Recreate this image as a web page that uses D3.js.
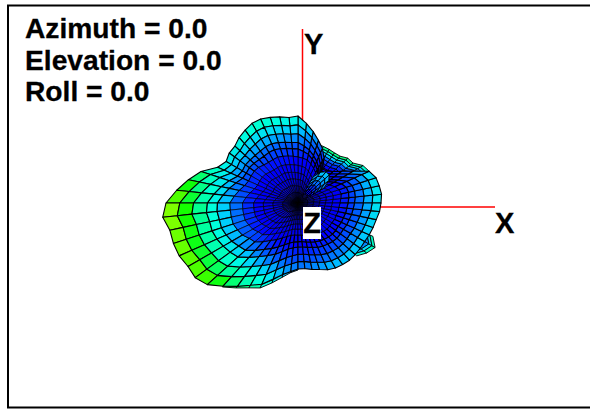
<!DOCTYPE html>
<html>
<head>
<meta charset="utf-8">
<script src="https://cdn.jsdelivr.net/npm/d3@7"></script>
<style>
    html, body { margin: 0; padding: 0; background: #fff; }
    text { font-family: "Liberation Sans", Arial, sans-serif; font-weight: 700; fill: #000; stroke: #000; stroke-width: 0.3px; }
</style>
</head>
<body>
<div id="chart"></div>
<script>
// ─── DATA ─────────────────────────────────────────────────────────────────────
const titleLines = ["Azimuth = 0.0", "Elevation = 0.0", "Roll = 0.0"];
const axisNames = ["X", "Y", "Z"];
const xAxisEnd = 1.93;
const yAxisEnd = 1.78;

// Radius per spoke, one spoke every 6 degrees, counter clockwise from +X
const outerRadius = [
    0.83, 0.84, 0.83, 0.82, 0.78, 0.64, 0.54, 0.47, 0.43, 0.42,
    0.52, 0.60, 0.66, 0.73, 0.80, 0.87, 0.86, 0.88, 0.90, 0.92,
    0.92, 0.90, 0.88, 0.85, 0.85, 0.83, 0.88, 1.02, 1.12, 1.22,
    1.32, 1.36, 1.31, 1.31, 1.30, 1.27, 1.27, 1.22, 1.12, 1.03,
    0.95, 0.89, 0.80, 0.73, 0.69, 0.66, 0.66, 0.68, 0.70, 0.73,
    0.75, 0.76, 0.77, 0.77, 0.77, 0.77, 0.78, 0.79, 0.80, 0.82
];
const middleRadius = [
    0.42, 0.43, 0.44, 0.43, 0.40, 0.36, 0.32, 0.30, 0.30, 0.32,
    0.35, 0.38, 0.41, 0.44, 0.45, 0.46, 0.47, 0.48, 0.49, 0.50,
    0.50, 0.50, 0.51, 0.53, 0.54, 0.54, 0.54, 0.56, 0.60, 0.64,
    0.68, 0.68, 0.68, 0.68, 0.66, 0.64, 0.60, 0.58, 0.52, 0.46,
    0.42, 0.38, 0.35, 0.33, 0.32, 0.32, 0.32, 0.33, 0.34, 0.35,
    0.36, 0.37, 0.38, 0.39, 0.39, 0.39, 0.40, 0.40, 0.41, 0.41
];
const ringLevels = [1, 0.89, 0.78, 0.67, 0.59, 0.49, 0.40, 0.32, 0.25, 0.18, 0.11, 0.05, 0];

// Lobes seen behind the main one: spoke index, radius, colour value
const backSpokes = [4, 5, 6, 7, 8, 9, 10, 11, 12];
const backRadius = [0.78, 0.75, 0.68, 0.67, 0.63, 0.62, 0.62, 0.62, 0.62];
const backValues = [0.88, 0.95, 0.98, 1.0, 1.0, 1.0, 0.98, 0.9, 0.8];
const tipSpokes = [53, 54, 55, 56];
const tipRadius = [0.79, 0.85, 0.89, 0.82];
const tipValues = [0.85, 0.9, 0.9, 0.85];
const bottomSpokes = [38, 39, 40, 41, 42, 43, 44, 45];
const bottomRadius = [1.13, 1.05, 0.98, 0.93, 0.84, 0.76, 0.70, 0.67];
const bottomValues = [1.05, 1.0, 0.95, 0.85, 0.8, 0.72, 0.68, 0.66];
const backLevels = [1, 0.96, 0.92, 0.87, 0.82, 0.76, 0.7, 0.62, 0.54];
const backShade = [1, 0.85, 0.72, 0.6, 0.5, 0.42, 0.36, 0.3];

// Small petal in front of the centre
const petalSpokes = [5, 6, 7, 8, 9, 10];
const petalRadius = [0.30, 0.38, 0.42, 0.42, 0.38, 0.30];
const petalLevels = [1, 0.86, 0.72, 0.58, 0.44, 0.3];
const petalShade = [1, 0.95, 0.85, 0.7, 0.55];
const petalValues = [0.66, 0.7, 0.72, 0.72, 0.7, 0.66];

// Colour per radius value
const colorDomain = [0, 0.2, 0.42, 0.6, 0.73, 0.85, 0.97, 1.12, 1.27];
const colorRange = ["#00009a", "#0000e0", "#0000ff", "#0060ff", "#00c8ff", "#00ffe0", "#00ffa0", "#10ff00", "#80ff00"];

// ─── LAYOUT ───────────────────────────────────────────────────────────────────
const width = 590, height = 409;
const meshCenter = { x: 298, y: 203 };
const axisOrigin = { x: 302, y: 207 };
const spokeStep = 6 * Math.PI / 180;

const rScale = d3.scaleLinear().domain([0, 1]).range([0, 100]);
const color = d3.scaleLinear().domain(colorDomain).range(colorRange).clamp(true);

const svg = d3.select("#chart").append("svg")
    .attr("width", width).attr("height", height)
    .style("display", "block");

// Cadre
svg.append("path").attr("d", "M590,5.5H8V407.5H590")
    .attr("fill", "none").attr("stroke", "#000").attr("stroke-width", 2);

// ─── AXES ─────────────────────────────────────────────────────────────────────
svg.append("line")
    .attr("x1", axisOrigin.x).attr("y1", axisOrigin.y)
    .attr("x2", axisOrigin.x + rScale(xAxisEnd)).attr("y2", axisOrigin.y)
    .attr("stroke", "#f00").attr("stroke-width", 1.5);
svg.append("line")
    .attr("x1", axisOrigin.x + 0.5).attr("y1", axisOrigin.y)
    .attr("x2", axisOrigin.x + 0.5).attr("y2", axisOrigin.y - rScale(yAxisEnd))
    .attr("stroke", "#f00").attr("stroke-width", 1.5);

// ─── MESH ─────────────────────────────────────────────────────────────────────
function point(spokeAngle, r) {
    return [
        meshCenter.x + rScale(r) * Math.cos(spokeAngle),
        meshCenter.y - rScale(r) * Math.sin(spokeAngle)
    ];
}

function drawCells(cells) {
    svg.append("g").selectAll("path")
        .data(cells)
        .enter()
        .append("path")
        .attr("d", d => d3.line()(d.corners) + "Z")
        .attr("fill", d => color(d.value))
        .attr("stroke", "#000")
        .attr("stroke-width", d => d.weight)
        .attr("stroke-linejoin", "round");
}

// Lobe derriere : quelques rayons, couleur portee par les listes de valeurs
function lobeCells(spokes, radii, values, levels, shade) {
    const cells = [];
    for (let i = 0; i < spokes.length - 1; i++) {
        for (let k = levels.length - 2; k >= 0; k--) {
            const a0 = spokes[i] * spokeStep, a1 = spokes[i + 1] * spokeStep;
            cells.push({
                value: values[i] * shade[k],
                weight: 0.9,
                corners: [
                    point(a0, radii[i] * levels[k]),
                    point(a1, radii[i + 1] * levels[k]),
                    point(a1, radii[i + 1] * levels[k + 1]),
                    point(a0, radii[i] * levels[k + 1])
                ]
            });
        }
    }
    return cells;
}

// Rayon d'un anneau : le profil median sert de pivot entre le bord et le centre
const midLevel = ringLevels[5];
function ringRadius(i, k) {
    const level = ringLevels[k];
    if (level >= midLevel) {
        const t = (level - midLevel) / (1 - midLevel);
        return middleRadius[i] + (outerRadius[i] - middleRadius[i]) * t;
    }
    return middleRadius[i] * level / midLevel;
}

const mainCells = [];
outerRadius.forEach((_, i) => {
    const next = (i + 1) % outerRadius.length;
    for (let k = 0; k < ringLevels.length - 1; k++) {
        const a0 = i * spokeStep, a1 = (i + 1) * spokeStep;
        const r00 = ringRadius(i, k), r10 = ringRadius(next, k);
        const r01 = ringRadius(i, k + 1), r11 = ringRadius(next, k + 1);
        mainCells.push({
            value: (r00 + r10 + r01 + r11) / 4,
            weight: k > 4 ? 0.7 : 1.1,
            corners: [point(a0, r00), point(a1, r10), point(a1, r11), point(a0, r01)]
        });
    }
});

drawCells(lobeCells(backSpokes, backRadius, backValues, backLevels, backShade));
drawCells(lobeCells(tipSpokes, tipRadius, tipValues, backLevels, backShade));
drawCells(lobeCells(bottomSpokes, bottomRadius, bottomValues, backLevels, backShade));
drawCells(mainCells);
drawCells(lobeCells(petalSpokes, petalRadius, petalValues, petalLevels, petalShade));

// ─── TEXTES ───────────────────────────────────────────────────────────────────
svg.selectAll(".title-line")
    .data(titleLines)
    .enter()
    .append("text")
    .attr("class", "title-line")
    .attr("x", 25)
    .attr("y", (_, i) => 38 + i * 31.5)
    .style("font-size", "28.2px")
    .text(d => d);

svg.append("text").attr("x", 495).attr("y", 233).style("font-size", "29px").text(axisNames[0]);
svg.append("text").attr("x", 304).attr("y", 54).style("font-size", "29px").text(axisNames[1]);

svg.append("rect").attr("x", 303).attr("y", 207).attr("width", 18).attr("height", 32).attr("fill", "#fff");
svg.append("text").attr("x", 312).attr("y", 233).attr("text-anchor", "middle")
    .style("font-size", "29px").text(axisNames[2]);
</script>
</body>
</html>
